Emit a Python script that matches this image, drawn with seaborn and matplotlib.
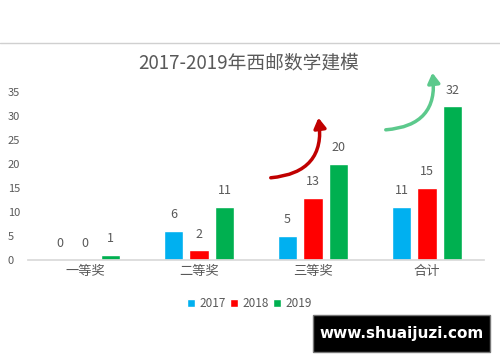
import pandas as pd
import matplotlib
matplotlib.use("Agg")
import matplotlib.pyplot as plt
from matplotlib.lines import Line2D
from matplotlib.patches import Rectangle
import seaborn as sns

categories = ["一等奖", "二等奖", "三等奖", "合计"]
years = ["2017", "2018", "2019"]
counts_2017 = [0, 6, 5, 11]
counts_2018 = [0, 2, 13, 15]
counts_2019 = [1, 11, 20, 32]
yticks = [0, 5, 10, 15, 20, 25, 30, 35]

palette = {"2017": "#00B0F0", "2018": "#FF0000", "2019": "#00B050"}
gray = "#595959"

rows = []
for year, vals in zip(years, [counts_2017, counts_2018, counts_2019]):
    for cat, v in zip(categories, vals):
        rows.append({"category": cat, "year": year, "count": v})
df = pd.DataFrame(rows)

sns.set_theme(style="white")
plt.rcParams["font.family"] = ["Noto Sans CJK SC", "DejaVu Sans"]

fig = plt.figure(figsize=(5, 3.62), dpi=100)
ax = fig.add_axes([0.056, 0.282, 0.912, 0.464])

sns.barplot(data=df, x="category", y="count", hue="year", palette=palette,
            width=0.67, gap=0.23, saturation=1, ax=ax, legend=True)

for container in ax.containers:
    ax.bar_label(container, fmt="%d", padding=7, fontsize=9, color=gray,
                 clip_on=False)

ax.set_ylim(0, 35)
ax.set_yticks(yticks)
ax.set_xlabel("")
ax.set_ylabel("")
ax.tick_params(axis="y", labelsize=8, colors=gray, length=0, pad=14.5)
ax.tick_params(axis="x", labelsize=9.5, colors=gray, length=0, pad=4)
for lbl in ax.get_yticklabels():
    lbl.set_horizontalalignment("left")
for side in ["left", "right", "top"]:
    ax.spines[side].set_visible(False)
ax.spines["bottom"].set_color("#D9D9D9")
ax.grid(False)

ax.legend(loc="upper center", bbox_to_anchor=(0.485, -0.16), ncol=3,
          frameon=False, fontsize=8.5, handlelength=0.7, handleheight=0.7,
          handletextpad=0.35, columnspacing=0.35, labelcolor=gray)

fig.text(0.497, 0.826, "2017-2019年西邮数学建模", ha="center", va="center",
         fontsize=13.5, color=gray)

# border line at the top of the screenshot
fig.add_artist(Line2D([0, 1], [0.881, 0.881], color="#D0D0D0", lw=1))

# decorative arrows
ax.annotate("", xy=(318, 247), xytext=(268, 184), xycoords="figure pixels",
            textcoords="figure pixels",
            arrowprops=dict(arrowstyle="-|>,head_length=0.5,head_width=0.3",
                            color="#C00000", lw=2.5,
                            connectionstyle="arc3,rad=0.55"))
ax.annotate("", xy=(432, 292), xytext=(383, 232), xycoords="figure pixels",
            textcoords="figure pixels",
            arrowprops=dict(arrowstyle="-|>,head_length=0.5,head_width=0.3",
                            color="#5CC98C", lw=2.5,
                            connectionstyle="arc3,rad=0.55"))

# watermark box
fig.add_artist(Rectangle((0.626, 0.028), 0.354, 0.102, transform=fig.transFigure,
                         facecolor="black", edgecolor="#777777", lw=1))
fig.text(0.803, 0.079, "www.shuaijuzi.com", ha="center", va="center",
         fontsize=11, color="white", fontweight="bold", family="DejaVu Sans")

fig.savefig("out.png", dpi=100)
